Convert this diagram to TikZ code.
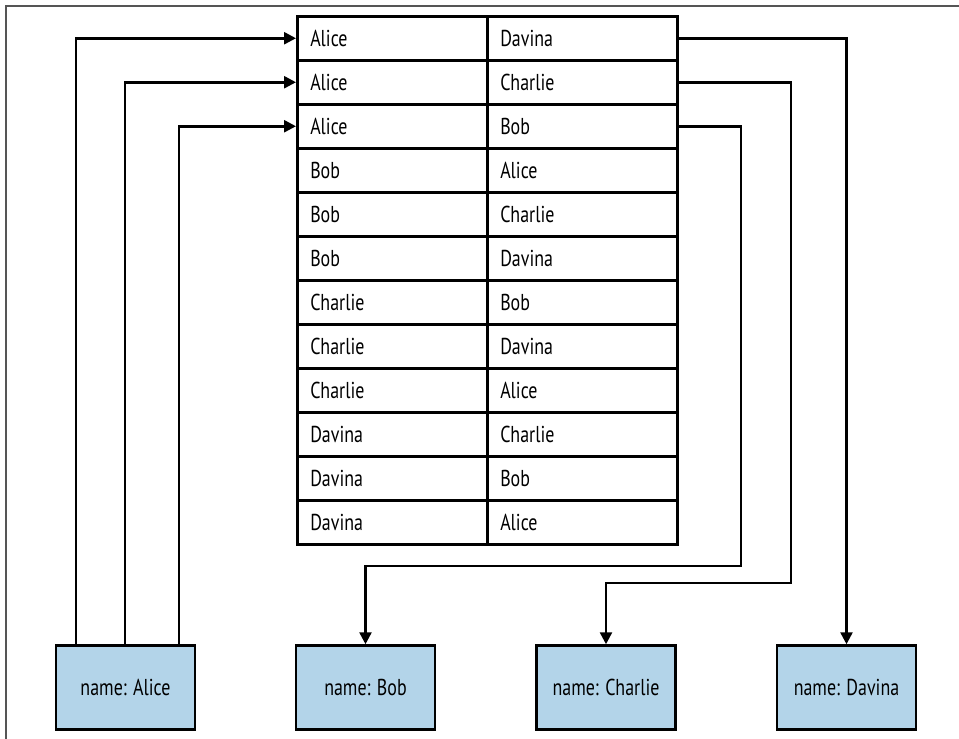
\documentclass[tikz,border=0pt]{standalone}
\usepackage{fontspec}
\setmainfont[FakeStretch=0.78]{PT Sans}
\usetikzlibrary{arrows.meta,positioning,calc}
\definecolor{NodeBlue}{RGB}{179,212,233}
\definecolor{FrameGray}{RGB}{85,85,85}
\tikzset{
  cell/.style={draw,line width=2.5pt,minimum height=44pt,text width=164pt,
               inner xsep=13pt,align=left,anchor=north west,font=\fontsize{23}{26}\selectfont},
  person/.style={draw,fill=NodeBlue,line width=2.5pt,minimum width=139pt,
                 minimum height=84pt,font=\fontsize{23}{26}\selectfont},
  arr/.style={-{Triangle[length=12pt,width=12pt]},line width=2.5pt},
}

\begin{document}
\begin{tikzpicture}[x=1pt,y=-1pt]
\useasboundingbox (0,0) rectangle (959,739);
\draw[FrameGray,line width=1.5pt] (6,739) -- (6,6) -- (959,6);

% edge table
\foreach \a/\b [count=\i] in {Alice/Davina,Alice/Charlie,Alice/Bob,Bob/Alice,
    Bob/Charlie,Bob/Davina,Charlie/Bob,Charlie/Davina,Charlie/Alice,
    Davina/Charlie,Davina/Bob,Davina/Alice}
{
  \node[cell] (l\i) at (296,{15+44*(\i-1)}) {\a};
  \node[cell] (r\i) at (486,{15+44*(\i-1)}) {\b};
}

% vertices
\node[person] (alice) at (125.5,687.5) {name: Alice};
\node[person] (bob) at (365.5,687.5) {name: Bob};
\node[person] (charlie) at (606,687.5) {name: Charlie};
\node[person] (davina) at (846.5,687.5) {name: Davina};

\coordinate (c2) at (791,583);
\coordinate (c3) at (741,566);

\draw[arr] ([xshift=-49.5pt]alice.north) |- (l1.west);
\draw[arr] ([xshift=-0.5pt]alice.north) |- (l2.west);
\draw[arr] ([xshift=53.5pt]alice.north) |- (l3.west);
\draw[arr] (r1.east) -| (davina.north);
\draw[arr] (r2.east) -| (c2) -| (charlie.north);
\draw[arr] (r3.east) -| (c3) -| (bob.north);
\end{tikzpicture}
\end{document}
